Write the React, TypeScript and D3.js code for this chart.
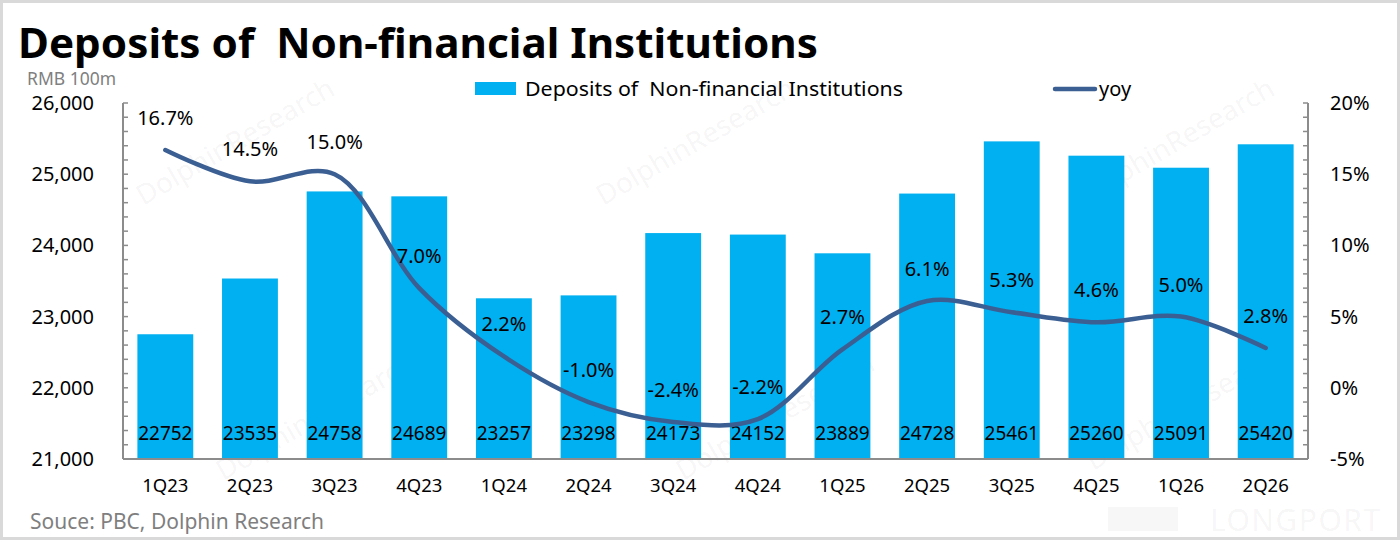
import React from 'react';
import * as d3 from 'd3';

const quarters = ['1Q23', '2Q23', '3Q23', '4Q23', '1Q24', '2Q24', '3Q24', '4Q24', '1Q25', '2Q25', '3Q25', '4Q25', '1Q26', '2Q26'];
const deposits = [22752, 23535, 24758, 24689, 23257, 23298, 24173, 24152, 23889, 24728, 25461, 25260, 25091, 25420];
const yoy = [16.7, 14.5, 15.0, 7.0, 2.2, -1.0, -2.4, -2.2, 2.7, 6.1, 5.3, 4.6, 5.0, 2.8];
const leftTicks = [21000, 22000, 23000, 24000, 25000, 26000];
const rightTicks = [-5, 0, 5, 10, 15, 20];

const W = 1400;
const H = 540;
const FONT = '"Noto Sans", "Open Sans", sans-serif';
const BAR = '#00b0f0';
const LINE = '#3b5f93';
const AXIS = '#8c8c8c';

const plot = { left: 123, right: 1308, top: 103, bottom: 459 };

// watermark spots (decorative)
const marks = [
  { x: 240, y: 150 }, { x: 700, y: 150 }, { x: 1180, y: 150 },
  { x: 320, y: 425 }, { x: 780, y: 425 }, { x: 1190, y: 415 },
];

export default function App() {
  const x = d3.scaleBand<string>()
    .domain(quarters)
    .range([plot.left, plot.right])
    .paddingInner(0.34)
    .paddingOuter(0.17);
  const yL = d3.scaleLinear().domain([21000, 26000]).range([plot.bottom, plot.top]);
  const yR = d3.scaleLinear().domain([-5, 20]).range([plot.bottom, plot.top]);
  const cx = (q: string) => (x(q) ?? 0) + x.bandwidth() / 2;

  const line = d3.line<number>()
    .x((_, i) => cx(quarters[i]))
    .y(d => yR(d))
    .curve(d3.curveCatmullRom.alpha(0.5));

  const minorL = d3.range(21000, 26001, 200);
  const minorR = d3.range(-5, 20.01, 1);

  return (
    <svg width={W} height={H} style={{ position: 'absolute', left: 0, top: 0, background: '#fff' }} fontFamily={FONT}>
      <rect x={1.5} y={1.5} width={W - 3} height={H - 3} fill="#fff" stroke="#d9d9d9" strokeWidth={3} />

      {/* watermarks */}
      {marks.map((m, i) => (
        <text key={i} x={m.x} y={m.y} transform={`rotate(-30 ${m.x} ${m.y})`} textAnchor="middle"
          fontSize={28} fill="#000" fillOpacity={0.05}>DolphinResearch</text>
      ))}
      <rect x={1108} y={507} width={70} height={24} fill="#000" fillOpacity={0.03} />
      <text x={1210} y={531} fontSize={30} fill="#000" fillOpacity={0.05} textLength={170}
        lengthAdjust="spacing">LONGPORT</text>

      {/* title */}
      <text x={18} y={58} fontSize={42} fontWeight="bold" fill="#000" textLength={800}
        lengthAdjust="spacingAndGlyphs" style={{ whiteSpace: 'pre' }}>Deposits of  Non-financial Institutions</text>
      <text x={27} y={85} fontSize={17.5} fill="#808080">RMB 100m</text>

      {/* legend */}
      <rect x={475} y={82} width={41} height={13} fill={BAR} />
      <text x={525} y={96} fontSize={19} fill="#000" style={{ whiteSpace: 'pre' }} textLength={378}
        lengthAdjust="spacingAndGlyphs">Deposits of  Non-financial Institutions</text>
      <line x1={1055} x2={1095} y1={89} y2={89} stroke={LINE} strokeWidth={4.5} strokeLinecap="round" />
      <text x={1099} y={96} fontSize={20} fill="#000">yoy</text>

      {/* bars */}
      {deposits.map((v, i) => (
        <rect key={quarters[i]} x={x(quarters[i])} y={yL(v)} width={x.bandwidth()}
          height={plot.bottom - yL(v)} fill={BAR} />
      ))}
      {deposits.map((v, i) => (
        <text key={'d' + i} x={cx(quarters[i])} y={440} textAnchor="middle" fontSize={19} fill="#000">{v}</text>
      ))}

      {/* axes */}
      <line x1={plot.left} x2={plot.left} y1={plot.top} y2={plot.bottom} stroke={AXIS} strokeWidth={2} />
      <line x1={plot.right} x2={plot.right} y1={plot.top} y2={plot.bottom} stroke={AXIS} strokeWidth={2} />
      <line x1={plot.left} x2={plot.right} y1={plot.bottom} y2={plot.bottom} stroke={AXIS} strokeWidth={2} />
      {minorL.map(t => (
        <line key={'ml' + t} x1={plot.left} x2={plot.left + 5} y1={yL(t)} y2={yL(t)} stroke={AXIS} strokeWidth={1.5} />
      ))}
      {minorR.map(t => (
        <line key={'mr' + t} x1={plot.right - 5} x2={plot.right} y1={yR(t)} y2={yR(t)} stroke={AXIS} strokeWidth={1.5} />
      ))}
      {leftTicks.map(t => (
        <text key={'lt' + t} x={94} y={yL(t) + 7} textAnchor="end" fontSize={20} fill="#000">{d3.format(',')(t)}</text>
      ))}
      {rightTicks.map(t => (
        <text key={'rt' + t} x={1330} y={yR(t) + 7} fontSize={20} fill="#000">{t}%</text>
      ))}
      {quarters.map(q => (
        <text key={'x' + q} x={cx(q)} y={492} textAnchor="middle" fontSize={18.5} fill="#000">{q}</text>
      ))}

      {/* yoy line */}
      <path d={line(yoy) ?? ''} fill="none" stroke={LINE} strokeWidth={4.5} strokeLinecap="round" />
      {yoy.map((v, i) => (
        <text key={'y' + i} x={cx(quarters[i])} y={yR(v) - 25} textAnchor="middle" fontSize={20} fill="#000">
          {v.toFixed(1)}%
        </text>
      ))}

      <text x={30} y={529} fontSize={21} fill="#7f7f7f">Souce: PBC, Dolphin Research</text>
    </svg>
  );
}
